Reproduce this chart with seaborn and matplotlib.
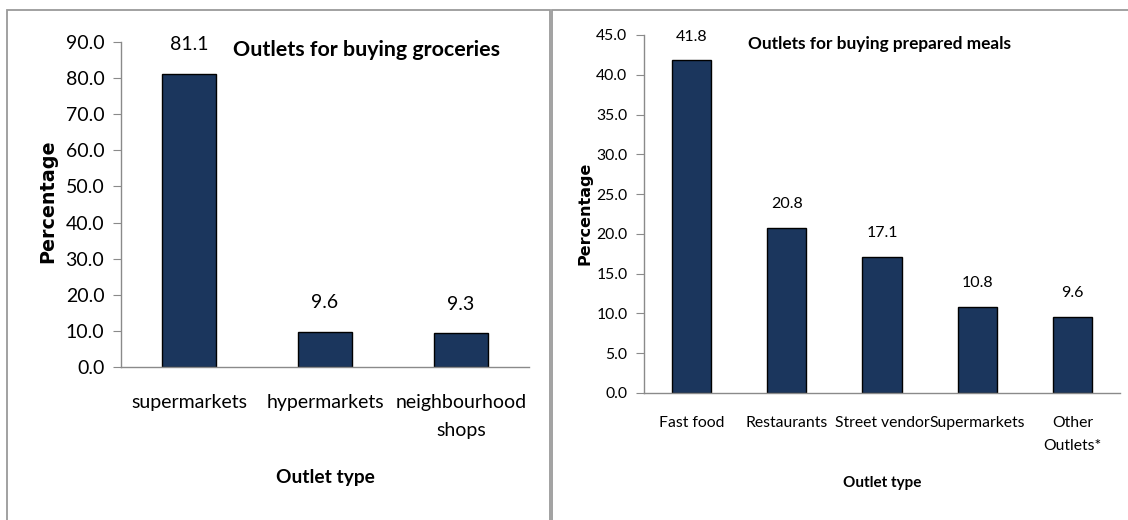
import matplotlib
matplotlib.use("Agg")
import matplotlib.pyplot as plt
from matplotlib.patches import Rectangle
import seaborn as sns
import pandas as pd

# data
grocery_outlets = ["supermarkets", "hypermarkets", "neighbourhood\nshops"]
grocery_pct = [81.1, 9.6, 9.3]
meal_outlets = ["Fast food", "Restaurants", "Street vendor", "Supermarkets", "Other\nOutlets*"]
meal_pct = [41.8, 20.8, 17.1, 10.8, 9.6]

sns.set_style("white")
narrow = ["Lato", "DejaVu Sans"]
plt.rcParams["font.family"] = narrow
plt.rcParams["text.color"] = "black"
plt.rcParams["xtick.color"] = "black"
plt.rcParams["ytick.color"] = "black"

bar_col = "#1b365d"
axis_col = "#8a8a8a"

fig = plt.figure(figsize=(11.28, 5.2), dpi=100)

# panel frames
fig.patches.append(Rectangle((7 / 1128, -0.05), 543 / 1128, 1 - 10 / 520 + 0.05,
                             transform=fig.transFigure, fill=False, edgecolor="#9a9a9a", lw=1.3))
fig.patches.append(Rectangle((552 / 1128, -0.05), 580 / 1128, 1 - 10 / 520 + 0.05,
                             transform=fig.transFigure, fill=False, edgecolor="#9a9a9a", lw=1.3))


def panel(rect, cats, vals, ymax, ystep, title, title_xy, title_fs, tick_fs, lab_fs, lab_pad,
          xpad, ylab_xy, xlab_y, ylab_fs, xlab_fs, width, xtick_len):
    ax = fig.add_axes(rect)
    df = pd.DataFrame({"outlet": cats, "pct": vals})
    sns.barplot(data=df, x="outlet", y="pct", color=bar_col, width=width,
                edgecolor="black", linewidth=1, saturation=1, ax=ax)
    n = len(cats)
    ax.set_xlim(-0.5, n - 0.5)
    ax.set_ylim(0, ymax)
    ax.set_yticks([i * ystep for i in range(int(ymax / ystep) + 1)])
    ax.set_yticklabels([f"{v:.1f}" for v in ax.get_yticks()], fontsize=tick_fs)
    ax.set_xticks(range(n))
    ax.set_xticklabels(cats, fontsize=tick_fs, linespacing=1.8)
    ax.set_xticks([i - 0.5 for i in range(n + 1)], minor=True)
    ax.tick_params(axis="x", which="major", length=0, pad=xpad)
    ax.tick_params(axis="x", which="minor", length=xtick_len, color=axis_col, direction="out")
    ax.tick_params(axis="y", length=6, color=axis_col, direction="out", left=True, pad=6)
    for s in ["top", "right"]:
        ax.spines[s].set_visible(False)
    for s in ["left", "bottom"]:
        ax.spines[s].set_color(axis_col)
        ax.spines[s].set_linewidth(1)
    ax.set_xlabel("")
    ax.set_ylabel("")
    ax.bar_label(ax.containers[0], fmt="%.1f", padding=lab_pad, fontsize=lab_fs)
    ax.grid(False)
    fig.text(title_xy[0], title_xy[1], title, fontsize=title_fs, fontweight="bold",
             ha="left", va="center", family=narrow)
    fig.text(ylab_xy[0], ylab_xy[1], "Percentage", rotation=90,
             fontsize=ylab_fs, fontweight="bold", ha="center", va="center",
             family=["DejaVu Sans"])
    fig.text(rect[0] + rect[2] / 2, xlab_y, "Outlet type", fontsize=xlab_fs,
             fontweight="bold", ha="center", va="center", family=narrow)
    return ax


panel([121 / 1128, 1 - 367 / 520, 408 / 1128, (367 - 42) / 520],
      grocery_outlets, grocery_pct, 90, 10,
      "Outlets for buying groceries", (233 / 1128, 1 - 50 / 520), 15.4, 14, 14, 15,
      19.5, (48 / 1128, 1 - 201 / 520), 1 - 477 / 520, 13.8, 13.8, 0.39, 10)

panel([644 / 1128, 1 - 393 / 520, 476 / 1128, (393 - 35) / 520],
      meal_outlets, meal_pct, 45, 5,
      "Outlets for buying prepared meals", (748 / 1128, 1 - 44 / 520), 12.4, 11.3, 11.5, 12,
      16.5, (585 / 1128, 1 - 213 / 520), 1 - 483 / 520, 11.5, 11, 0.41, 8)

fig.savefig("out.png", dpi=100)
